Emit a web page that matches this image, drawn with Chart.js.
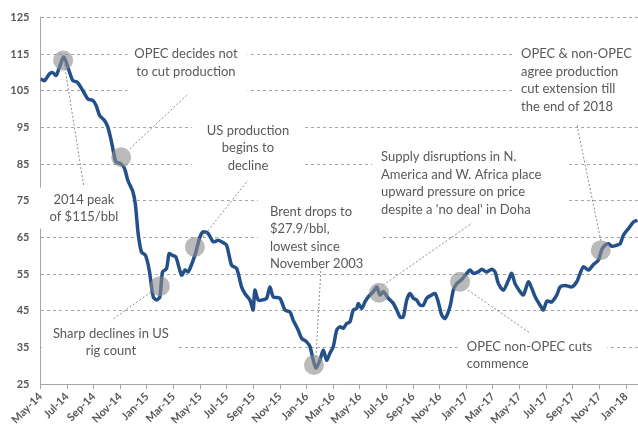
<!DOCTYPE html>
<html>
<head>
<meta charset="utf-8">
<script src="https://cdn.jsdelivr.net/npm/chart.js@4/dist/chart.umd.min.js"></script>
<style>
  html, body { margin: 0; padding: 0; background: #fff; }
  #wrap { width: 638px; height: 430px; position: relative; }
</style>
</head>
<body>
<div id="wrap"><canvas id="brent"></canvas></div>
<script>
// ── DATA ──
// x = months since May 2014, y = Brent price ($/bbl)
const months = [
  0, 0.30, 0.68, 0.92, 1.17, 1.43, 1.75, 2.18, 2.43, 2.75,
  3.18, 3.56, 3.93, 4.18, 4.44, 4.81, 5.06, 5.31, 5.51, 5.68,
  6.04, 6.32, 6.56, 6.94, 7.13, 7.34, 7.59, 7.89, 8.17, 8.47,
  8.72, 8.97, 9.17, 9.47, 9.67, 9.92, 10.17, 10.60, 10.85, 11.10,
  11.60, 11.98, 12.23, 12.60, 12.98, 13.35, 13.61, 13.98, 14.36, 14.74,
  15.11, 15.36, 15.74, 15.98, 16.11, 16.36, 16.62, 16.99, 17.24, 17.49,
  17.99, 18.37, 18.74, 18.99, 19.37, 19.62, 20.00, 20.25, 20.50, 20.70,
  21.00, 21.25, 21.50, 21.75, 22.00, 22.26, 22.50, 22.75, 23.01, 23.26,
  23.50, 23.76, 23.88, 24.14, 24.38, 24.63, 25.01, 25.26, 25.51, 25.76,
  26.14, 26.51, 26.77, 27.02, 27.26, 27.52, 27.77, 28.02, 28.27, 28.52,
  28.77, 29.02, 29.40, 29.65, 29.89, 30.15, 30.40, 30.77, 31.02, 31.28,
  31.65, 32.03, 32.28, 32.53, 32.90, 33.16, 33.53, 33.91, 34.16, 34.41,
  34.78, 35.16, 35.41, 35.66, 36.04, 36.29, 36.66, 36.92, 37.17, 37.54,
  37.79, 38.05, 38.42, 38.80, 39.05, 39.42, 39.92, 40.30, 40.55, 40.80,
  41.17, 41.55, 41.92, 42.18, 42.43, 42.68, 42.93, 43.31, 43.56, 43.80,
  44.18, 44.56, 44.86
];
const brent = [
  108.3, 107.8, 109.7, 110.0, 109.2, 111.5, 114.2, 110.1, 107.8, 107.4,
  105.1, 102.8, 102.4, 101.0, 98.3, 96.9, 95.1, 91.5, 87.9, 85.6,
  85.1, 83.8, 80.6, 77.5, 74.0, 66.0, 61.0, 60.1, 56.1, 48.8,
  47.9, 48.8, 55.6, 56.5, 60.6, 60.1, 59.7, 54.7, 56.1, 55.6,
  60.1, 65.1, 66.5, 66.1, 63.8, 64.2, 63.8, 62.9, 57.4, 56.5,
  51.5, 49.7, 47.9, 45.2, 50.6, 47.9, 47.9, 48.4, 51.5, 48.8,
  48.4, 45.2, 44.7, 42.4, 39.7, 37.5, 36.5, 35.2, 31.5, 29.3,
  31.5, 34.3, 31.5, 33.4, 35.2, 39.7, 40.6, 40.2, 41.5, 42.0,
  45.2, 45.6, 47.0, 45.6, 47.4, 48.8, 50.2, 51.5, 49.3, 50.2,
  48.4, 47.0, 45.2, 43.3, 43.3, 47.9, 49.7, 48.4, 47.9, 46.5,
  46.5, 48.4, 49.3, 49.7, 47.4, 43.8, 42.9, 46.1, 50.6, 52.4,
  53.5, 55.2, 56.1, 55.2, 55.6, 56.3, 55.6, 56.3, 55.6, 52.4,
  50.6, 53.3, 55.2, 52.4, 50.2, 49.3, 52.9, 51.1, 48.8, 46.5,
  45.2, 47.6, 47.4, 49.3, 51.5, 51.9, 51.5, 52.9, 55.2, 57.0,
  56.1, 57.6, 58.8, 61.7, 62.9, 63.3, 62.6, 62.9, 63.3, 65.6,
  67.4, 69.2, 69.7
];
const tickLabels = [
  'May-14', 'Jul-14', 'Sep-14', 'Nov-14', 'Jan-15', 'Mar-15', 'May-15', 'Jul-15',
  'Sep-15', 'Nov-15', 'Jan-16', 'Mar-16', 'May-16', 'Jul-16', 'Sep-16', 'Nov-16',
  'Jan-17', 'Mar-17', 'May-17', 'Jul-17', 'Sep-17', 'Nov-17', 'Jan-18'
];

// highlighted events: [month, price]
const markers = [
  [1.7, 113.3], [6.06, 86.9], [8.97, 51.7], [11.6, 62.4],
  [20.55, 30.2], [25.44, 49.9], [31.53, 52.9], [42.1, 61.5]
];
// leader lines: [x1, y1, x2, y2] in data units
const leaders = [
  [1.75, 113.3, 3.26, 78.8],
  [6.71, 89.2, 11.1, 104.2],
  [8.29, 50.1, 5.34, 42.4],
  [12.2, 65.1, 15.59, 80.6],
  [20.7, 32.4, 21.08, 56.6],
  [25.74, 52.0, 32.43, 68.9],
  [32.13, 50.6, 36.79, 38.9],
  [40.32, 95.6, 42.1, 64.2]
];
// text notes, x/y = first line anchor (data units), pad = [left, top, right, bottom]
const notes = [
  { x: 10.93, y: 115.1, align: 'center', lines: ['OPEC decides not', 'to cut production'], pad: [7, 3, 10, 14] },
  { x: 3.26, y: 75.4, align: 'center', lines: ['2014 peak', 'of $115/bbl'], pad: [14, 3, 14, 3] },
  { x: 15.59, y: 94.2, align: 'center', lines: ['US production', 'begins to', 'decline'], pad: [15, 3, 15, 3] },
  { x: 17.24, y: 72.1, align: 'left', lines: ['Brent drops to', '$27.9/bbl,', 'lowest since', 'November 2003'], pad: [12, 4, 17, 1] },
  { x: 25.59, y: 86.9, align: 'left', lines: ['Supply disruptions in N.', 'America and W. Africa place', 'upward pressure on price', "despite a 'no deal' in Doha"], pad: [9, 3, 25, 3] },
  { x: 36.11, y: 115.1, align: 'left', lines: ['OPEC & non-OPEC', 'agree production', 'cut extension till', 'the end of 2018'], pad: [9, 3, 30, 3] },
  { x: 5.29, y: 38.8, align: 'center', lines: ['Sharp declines in US', 'rig count'], pad: [11, 3, 10, 3] },
  { x: 32.03, y: 35.2, align: 'left', lines: ['OPEC non-OPEC cuts', 'commence'], pad: [9, 3, 15, 3] }
];

const GREY = '#595959';
const LINE_H = 17.5;
const NOTE_FONT = '13px Lato';

// ── ANNOTATIONS ──
function noteBox(ctx, n, xs, ys) {
    ctx.font = NOTE_FONT;
    const w = Math.max(...n.lines.map(l => ctx.measureText(l).width));
    const px = xs.getPixelForValue(n.x);
    const py = ys.getPixelForValue(n.y);
    const left = n.align === 'center' ? px - w / 2 : px;
    const top = py - LINE_H / 2;
    return { px, py, left, top, w, h: n.lines.length * LINE_H };
}

const annotations = {
    id: 'annotations',
    beforeDatasetsDraw(chart) {
        const { ctx, scales: { x, y } } = chart;
        ctx.save();
        ctx.fillStyle = '#ffffff';
        notes.forEach(n => {
            const b = noteBox(ctx, n, x, y);
            ctx.fillRect(b.left - n.pad[0], b.top - n.pad[1],
                b.w + n.pad[0] + n.pad[2], b.h + n.pad[1] + n.pad[3]);
        });
        ctx.restore();
    },
    afterDatasetsDraw(chart) {
        const { ctx, scales: { x, y } } = chart;
        ctx.save();
        // text
        ctx.fillStyle = GREY;
        ctx.textBaseline = 'middle';
        notes.forEach(n => {
            const b = noteBox(ctx, n, x, y);
            ctx.textAlign = n.align;
            n.lines.forEach((l, i) => ctx.fillText(l, b.px, b.py + i * LINE_H));
        });
        // leaders
        ctx.strokeStyle = '#8c8c8c';
        ctx.lineWidth = 1;
        ctx.setLineDash([2, 2]);
        leaders.forEach(([x1, y1, x2, y2]) => {
            ctx.beginPath();
            ctx.moveTo(x.getPixelForValue(x1), y.getPixelForValue(y1));
            ctx.lineTo(x.getPixelForValue(x2), y.getPixelForValue(y2));
            ctx.stroke();
        });
        ctx.setLineDash([]);
        // circles
        ctx.fillStyle = 'rgba(140,140,140,0.6)';
        markers.forEach(([mx, my]) => {
            ctx.beginPath();
            ctx.arc(x.getPixelForValue(mx), y.getPixelForValue(my), 10, 0, Math.PI * 2);
            ctx.fill();
        });
        ctx.restore();
    }
};

// ── CHART ──
new Chart(document.getElementById('brent').getContext('2d'), {
    type: 'line',
    data: {
        datasets: [{
            label: 'Brent',
            data: months.map((m, i) => ({ x: m, y: brent[i] })),
            borderColor: '#245089',
            borderWidth: 3.5,
            tension: 0.25,
            pointRadius: 0,
            fill: false
        }]
    },
    options: {
        responsive: true,
        maintainAspectRatio: false,
        animation: false,
        layout: { padding: { top: 17, right: 0, bottom: 0, left: 0 } },
        scales: {
            x: {
                type: 'linear',
                min: 0, max: 44.9,
                afterBuildTicks: s => { s.ticks = tickLabels.map((_, i) => ({ value: i * 2 })); },
                afterFit: s => { s.height = 46; },
                ticks: {
                    autoSkip: false,
                    minRotation: 45, maxRotation: 45,
                    padding: 1,
                    color: GREY,
                    font: { family: 'Lato', size: 11, weight: 'bold' },
                    callback: v => tickLabels[Math.round(v / 2)]
                },
                grid: { drawOnChartArea: false, drawTicks: true, tickLength: 5, color: '#a6a6a6' },
                border: { color: '#a6a6a6', width: 1 }
            },
            y: {
                min: 25, max: 125,
                afterFit: s => { s.width = 40.5; },
                ticks: {
                    stepSize: 10,
                    padding: 11,
                    color: GREY,
                    font: { family: 'Lato', size: 11, weight: 'bold' }
                },
                grid: { color: '#a6a6a6', drawTicks: false, tickBorderDash: [3, 3] },
                border: { color: '#a6a6a6', width: 1, dash: [3, 3] }
            }
        },
        plugins: {
            legend: { display: false },
            tooltip: { enabled: false }
        }
    },
    plugins: [annotations]
});
</script>
</body>
</html>
